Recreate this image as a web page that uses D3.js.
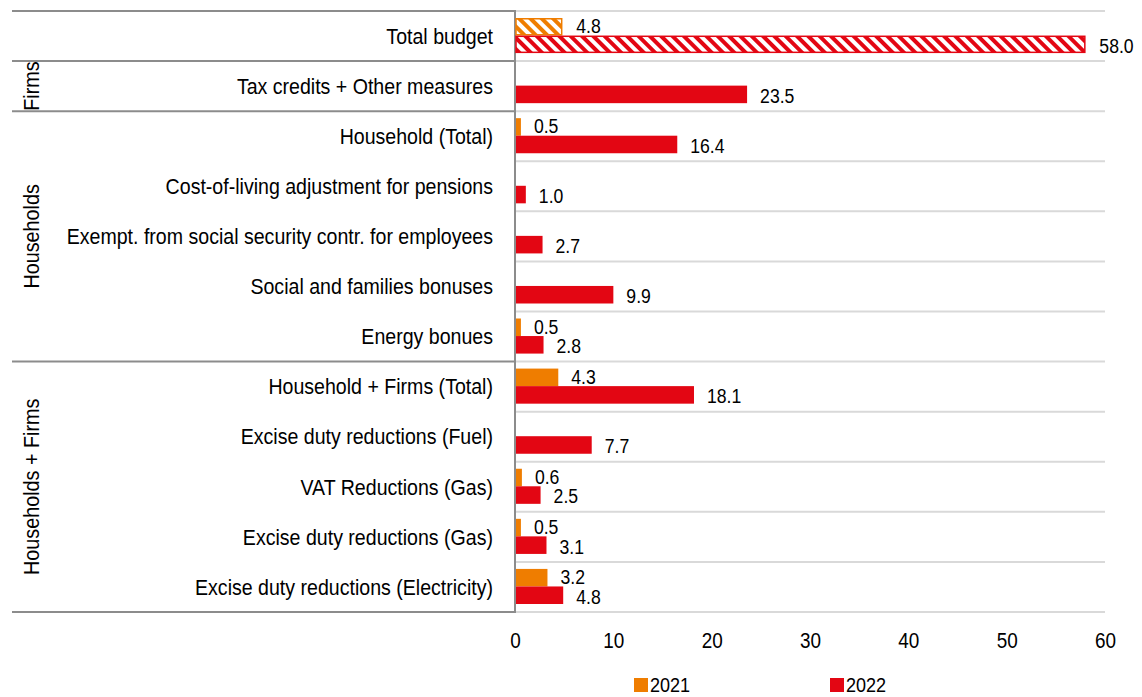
<!DOCTYPE html>
<html>
<head>
<meta charset="utf-8">
<script src="https://cdn.jsdelivr.net/npm/d3@7"></script>
<style>
  html, body { margin: 0; padding: 0; background: #fff; }
  svg { display: block; font-family: "Liberation Sans", Arial, sans-serif; }
</style>
</head>
<body>
<svg id="chart" width="1142" height="697"></svg>
<script>
const categories = [
  "Total budget",
  "Tax credits + Other measures",
  "Household (Total)",
  "Cost-of-living adjustment for pensions",
  "Exempt. from social security contr. for employees",
  "Social and families bonuses",
  "Energy bonues",
  "Household + Firms (Total)",
  "Excise duty reductions (Fuel)",
  "VAT Reductions (Gas)",
  "Excise duty reductions (Gas)",
  "Excise duty reductions (Electricity)"
];
const series = ["2021", "2022"];
const values2021 = [4.8, null, 0.5, null, null, null, 0.5, 4.3, null, 0.6, 0.5, 3.2];
const values2022 = [58.0, 23.5, 16.4, 1.0, 2.7, 9.9, 2.8, 18.1, 7.7, 2.5, 3.1, 4.8];
const groups = [
  { name: "Firms", first: "Tax credits + Other measures", last: "Tax credits + Other measures" },
  { name: "Households", first: "Household (Total)", last: "Energy bonues" },
  { name: "Households + Firms", first: "Household + Firms (Total)", last: "Excise duty reductions (Electricity)" }
];
const hatchedCategory = "Total budget";
const xTicks = [0, 10, 20, 30, 40, 50, 60];

const colors = { "2021": "#EF7D00", "2022": "#E30613" };

const svg = d3.select("#chart");
const pLeft = 515, pRight = 1105, pTop = 11, pBottom = 612;

const x = d3.scaleLinear().domain([0, 60]).range([pLeft, pRight]);
const y = d3.scaleBand().domain(categories).range([pTop, pBottom]).padding(0);
const ySub = d3.scaleBand().domain(series).range([7, y.bandwidth() - 8]).padding(0);

// patterns
const defs = svg.append("defs");
series.forEach(s => {
  const p = defs.append("pattern")
    .attr("id", "hatch" + s)
    .attr("patternUnits", "userSpaceOnUse")
    .attr("width", 8).attr("height", 8)
    .attr("patternTransform", "rotate(-45)");
  p.append("rect").attr("width", 8).attr("height", 8).attr("fill", "#fff");
  p.append("rect").attr("x", 0).attr("width", 4).attr("height", 8).attr("fill", colors[s]);
});

// gridlines
const bounds = categories.map(c => y(c)).concat([pBottom]);
svg.append("g").selectAll("line").data(bounds).join("line")
  .attr("x1", pLeft + 1).attr("x2", pRight)
  .attr("y1", d => d).attr("y2", d => d)
  .attr("stroke", "#d9d9d9").attr("stroke-width", 2);

// left panel separators
const sepLines = [pTop, y(groups[0].first), y(groups[1].first), y(groups[2].first), pBottom];
svg.append("g").selectAll("line").data(sepLines).join("line")
  .attr("x1", 12).attr("x2", pLeft)
  .attr("y1", d => d).attr("y2", d => d)
  .attr("stroke", "#8c8c8c").attr("stroke-width", 2);

// vertical axis line
svg.append("line")
  .attr("x1", pLeft).attr("x2", pLeft).attr("y1", pTop - 1).attr("y2", pBottom + 1)
  .attr("stroke", "#8c8c8c").attr("stroke-width", 2);

// bars
const rows = [];
categories.forEach((c, i) => {
  [["2021", values2021[i]], ["2022", values2022[i]]].forEach(([s, v]) => {
    if (v !== null) rows.push({ cat: c, series: s, value: v });
  });
});

svg.append("g").selectAll("rect").data(rows).join("rect")
  .attr("x", d => x(0) + 1)
  .attr("y", d => y(d.cat) + ySub(d.series) + (d.cat === hatchedCategory ? 0.75 : 0))
  .attr("width", d => Math.max(0, x(d.value) - x(0) - (d.cat === hatchedCategory ? 1.5 : 0)))
  .attr("height", d => ySub.bandwidth() - (d.cat === hatchedCategory ? 1.5 : 0))
  .attr("fill", d => d.cat === hatchedCategory ? `url(#hatch${d.series})` : colors[d.series])
  .attr("stroke", d => d.cat === hatchedCategory ? colors[d.series] : "none")
  .attr("stroke-width", 1.5);

// narrow-font emulation: horizontal squeeze
const sqCat = 0.89, sqVal = 0.84, sqTick = 0.86, sqGroup = 0.9;

// value labels
svg.append("g").selectAll("text").data(rows).join("text")
  .attr("transform", d => `translate(${x(d.value) + 14},${y(d.cat) + ySub(d.series) + ySub.bandwidth() / 2 + (d.series === "2021" ? -1 : 1)}) scale(${sqVal},1)`)
  .attr("dy", "0.35em")
  .attr("font-size", 21)
  .attr("fill", "#000")
  .text(d => d.value.toFixed(1));

// category labels
svg.append("g").selectAll("text").data(categories).join("text")
  .attr("transform", d => `translate(493,${y(d) + y.bandwidth() / 2}) scale(${sqCat},1)`)
  .attr("dy", "0.35em")
  .attr("text-anchor", "end")
  .attr("font-size", 22)
  .attr("fill", "#000")
  .text(d => d);

// group labels
groups.forEach(g => {
  const cy = (y(g.first) + y(g.last) + y.bandwidth()) / 2;
  svg.append("text")
    .attr("transform", `translate(31,${cy}) rotate(-90) scale(${sqGroup},1)`)
    .attr("text-anchor", "middle")
    .attr("dy", "0.35em")
    .attr("font-size", 22)
    .attr("fill", "#000")
    .text(g.name);
});

// x axis
const xAxis = d3.axisBottom(x).tickValues(xTicks).tickSize(0).tickPadding(0).tickFormat(d3.format("d"));
const ax = svg.append("g").attr("transform", `translate(0,${pBottom})`).call(xAxis);
ax.select(".domain").remove();
ax.attr("font-family", null).attr("font-size", null);
ax.selectAll("text").attr("font-size", 22).attr("fill", "#000")
  .attr("dy", "0.35em").attr("y", 28)
  .attr("transform", `scale(${sqTick},1)`);

// legend
const legend = svg.append("g");
const legendItems = [{ s: "2021", x: 634 }, { s: "2022", x: 830 }];
legendItems.forEach(it => {
  legend.append("rect").attr("x", it.x).attr("y", 678).attr("width", 14).attr("height", 14)
    .attr("fill", colors[it.s]);
  legend.append("text")
    .attr("transform", `translate(${it.x + 16},685) scale(${sqTick},1)`)
    .attr("dy", "0.35em")
    .attr("font-size", 21).attr("fill", "#000").text(it.s);
});
</script>
</body>
</html>
